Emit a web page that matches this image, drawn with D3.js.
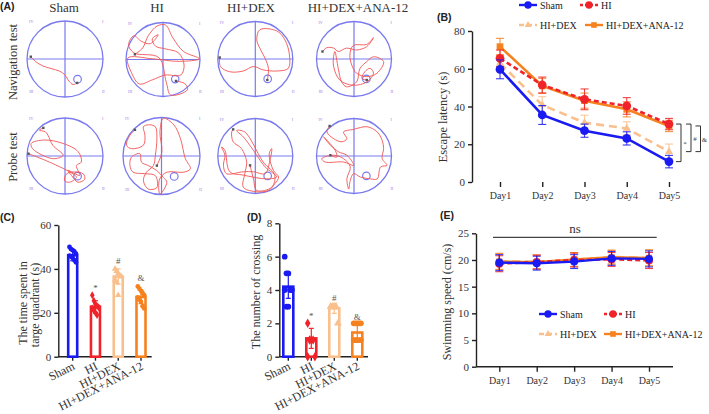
<!DOCTYPE html>
<html><head><meta charset="utf-8">
<script src="https://cdn.jsdelivr.net/npm/d3@7"></script>
<style>body{margin:0;background:#fff}svg{display:block}</style>
</head><body><svg id="c" width="709" height="414"></svg>
<script>
// ---------------- DATA ----------------
const groups = ["Sham","HI","HI+DEX","HI+DEX+ANA-12"];
const days = ["Day1","Day2","Day3","Day4","Day5"];
const quadrantLabels = ["IV","I","III","II"];

// (B) Escape latency (s)
const latSham = [59.7, 35.5, 27.2, 23.1, 10.8];
const latHI   = [65.5, 51.4, 43.8, 40.3, 30.7];
const latDEX  = [63.0, 40.8, 31.4, 28.4, 16.1];
const latANA  = [71.7, 50.9, 43.1, 38.5, 29.7];
const latShamErr = [5.0, 5.0, 3.5, 3.5, 3.3];
const latHIErr   = [4.4, 4.2, 5.5, 4.4, 3.0];
const latDEXErr  = [4.4, 4.4, 4.0, 3.5, 4.0];
const latANAErr  = [4.4, 4.0, 4.0, 4.0, 3.0];
const sigLabels = ["*","#","&"];

// (C) time spent in target quadrant (s)
const timeMean = [46.2, 22.8, 36.5, 27.2];
const timeSD   = [2.5, 2.7, 3.5, 3.0];
const timeSham = [50, 49, 48.5, 48, 47, 46, 45.5, 45, 44, 43];
const timeHI   = [28, 25.5, 24, 23, 22.5, 22, 21, 20, 19];
const timeDEX  = [40, 39, 38, 37, 36.5, 35, 34, 28];
const timeANA  = [32, 31, 30, 29, 28, 27, 26, 25, 23, 22];
const timeSig  = ["", "*", "#", "&"];

// (D) number of crossing
const crossMean = [4.2, 1.1, 2.9, 1.45];
const crossSD   = [0.7, 0.6, 0.3, 0.5];
const crossSham = [6, 5, 5, 4, 4, 4, 3, 3];
const crossHI   = [2, 1, 1, 1, 0, 0];
const crossDEX  = [3, 3, 3, 3, 2, 3];
const crossANA  = [2, 2, 2, 2, 2, 1, 1, 1, 1, 1];
const crossSig  = ["", "*", "#", "&"];

// (E) Swimming speed (cm/s)
const spdSham = [19.5, 19.4, 19.7, 20.3, 20.2];
const spdHI   = [19.3, 19.6, 20.0, 20.1, 19.9];
const spdDEX  = [19.8, 19.7, 20.0, 20.6, 20.4];
const spdANA  = [19.7, 19.6, 20.1, 20.5, 20.4];
const spdErr  = [1.5, 1.3, 1.3, 1.3, 1.5];

// (A) swim trajectories, pool coordinates (-100..100, radius 100)
const platformPos = [33, 53];
const navSham = [[-90,-6],[-77,7],[-59,18],[-37,25],[-14,32],[-1,41],[11,59],[21,67],[32,63]];
const navHI = [[-76,-14],[-55,-31],[-40,-64],[-15,-91],[7,-93],[27,-58],[55,-22],[98,-2],[44,5],[-29,-2],[-95,-4],[-85,36],[-64,66],[-29,55],[7,42],[48,42],[57,15],[42,-18],[5,-29],[-20,-36],[-29,-56],[-13,-67],[-34,-43],[-58,-49],[-79,-64],[-93,-40],[-79,-18],[-11,-5],[9,62],[21,96],[66,82],[60,66],[35,58]];
const navDEX = [[-95,-4],[-93,20],[-68,34],[-32,32],[-5,20],[21,29],[57,32],[88,25],[91,-11],[79,-51],[57,-75],[12,-78],[4,-51],[12,-29],[26,-2],[35,25],[32,56]];
const navANA = [[-84,-20],[-73,-30],[-54,-29],[-42,-20],[-20,-29],[7,-24],[34,-33],[52,-57],[34,-39],[-2,-36],[-11,-11],[-6,16],[7,38],[34,47],[61,38],[79,7],[52,-6],[34,7],[16,25],[7,61],[-20,74],[-33,61],[-42,25],[-51,-20],[-55,16],[-38,56],[-2,70],[34,61],[52,38],[43,25],[29,34],[21,52],[34,56]];
const probeSham = [[-96,-6],[-41,16],[21,47],[30,56],[12,69],[-1,65],[4,47],[26,42],[48,47],[52,61],[34,69],[17,51],[8,38],[39,51],[30,25],[43,16],[35,-11],[-5,-33],[-54,-42],[-89,-33],[-85,-19],[-32,7],[-5,-2],[-32,-28],[-45,-55],[-52,-64],[-68,-68],[-57,-74]];
const probeHI = [[-69,-68],[-82,-54],[-91,-28],[-78,-19],[-47,-28],[-43,-54],[-47,-76],[-34,-81],[-16,-76],[-12,-46],[-16,-2],[-21,25],[-39,42],[-47,64],[-34,86],[-12,82],[-16,51],[-43,46],[-74,42],[-82,25],[-78,3],[-56,-6],[-52,16],[-34,25],[-12,38],[5,56],[14,68],[-4,99],[-5,60],[14,42],[58,42],[75,33],[62,7],[49,-46],[32,-81],[5,-98],[-4,-63],[1,-11],[-12,25]];
const probeDEX = [[-59,-71],[-63,-64],[-59,-38],[-37,-20],[-23,16],[-28,47],[-32,83],[-1,95],[35,92],[52,74],[62,56],[48,38],[37,-6],[44,-20],[39,12],[26,47],[-5,42],[-32,42],[-77,47],[-85,25],[-81,-2],[-90,-24],[-81,-15],[-68,42],[-32,51],[30,61],[57,56],[26,29],[-5,-15],[-32,-51],[-50,-68],[-28,-64],[21,16],[52,51],[44,83],[4,92],[-5,61],[-14,25]];
const probeANA = [[-65,-80],[-72,-64],[-54,-46],[-32,-38],[-19,-46],[-28,-64],[-1,-71],[35,-78],[62,-64],[75,-42],[79,-20],[75,7],[88,25],[71,29],[62,61],[44,61],[17,56],[-1,47],[-10,65],[-14,88],[-19,61],[-10,29],[-28,7],[-54,-2],[-86,7],[-77,16],[-28,16],[-1,25],[-19,-2],[-41,-11],[-63,-29],[-81,-51],[-50,-15],[-46,3],[-63,-2]];

// ---------------- STYLE ----------------
const svg = d3.select("#c");
const serif = "'Liberation Serif','Times New Roman',serif";
const sans = "'Liberation Sans',Arial,sans-serif";
const col = ["#1a1af2","#f0232a","#f9c08e","#f5821f"];
const poolCol = "#7a7af0", trackCol = "#f05555";

function txt(x,y,s,o={}){
  const t = svg.append("text").attr("x",x).attr("y",y).text(s)
    .attr("font-family",o.family||serif).attr("font-size",o.size||12)
    .attr("fill",o.fill||"#222").attr("text-anchor",o.anchor||"start");
  if(o.weight) t.attr("font-weight",o.weight);
  if(o.rotate!==undefined) t.attr("transform",`rotate(${o.rotate},${x},${y})`);
  return t;
}
function styleAxis(g,fs){
  g.selectAll("path,line").attr("stroke","#222").attr("stroke-width",1.4);
  g.selectAll("text").attr("font-family",serif).attr("font-size",fs||10.5).attr("fill","#333");
}

// ---------------- PANEL A ----------------
txt(0,10,"(A)",{family:sans,size:10.5,weight:"bold"});
const titleX = [64,157,251,358];
groups.forEach((g,i)=>txt(titleX[i],12,g,{size:13,anchor:"middle",fill:"#333"}));
txt(17,62,"Navigation test",{size:12.5,anchor:"middle",rotate:-90,fill:"#333"});
txt(17,157,"Probe test",{size:12.5,anchor:"middle",rotate:-90,fill:"#333"});

const pools = [
 {cx:65,cy:59,r:38,path:navSham},{cx:163,cy:59.5,r:37,path:navHI},
 {cx:255.3,cy:59,r:37.5,path:navDEX},{cx:354,cy:59,r:37.5,path:navANA},
 {cx:65,cy:156,r:38,path:probeSham},{cx:161.5,cy:156,r:38.5,path:probeHI},
 {cx:255.3,cy:156,r:37.5,path:probeDEX},{cx:354,cy:156,r:37.5,path:probeANA}];
const cornerPos = [[-89,-94],[99,-94],[-89,90],[101,90]];
pools.forEach(p=>{
  const sx = d3.scaleLinear().domain([-100,100]).range([p.cx-p.r,p.cx+p.r]);
  const sy = d3.scaleLinear().domain([-100,100]).range([p.cy-p.r,p.cy+p.r]);
  const g = svg.append("g");
  g.append("line").attr("x1",sx(-100)).attr("x2",sx(100)).attr("y1",sy(0)).attr("y2",sy(0)).attr("stroke",poolCol).attr("stroke-width",1.2);
  g.append("line").attr("x1",sx(0)).attr("x2",sx(0)).attr("y1",sy(-100)).attr("y2",sy(100)).attr("stroke",poolCol).attr("stroke-width",1.2);
  g.append("circle").attr("cx",p.cx).attr("cy",p.cy).attr("r",p.r).attr("fill","none").attr("stroke",poolCol).attr("stroke-width",1.3);
  g.append("circle").attr("cx",sx(platformPos[0])).attr("cy",sy(platformPos[1])).attr("r",p.r*0.1).attr("fill","none").attr("stroke",poolCol).attr("stroke-width",1.2);
  const line = d3.line().x(d=>sx(d[0])).y(d=>sy(d[1])).curve(d3.curveCatmullRom.alpha(0.5));
  g.append("path").attr("d",line(p.path)).attr("fill","none").attr("stroke",trackCol).attr("stroke-width",0.9);
  [p.path[0],p.path[p.path.length-1]].forEach(d=>g.append("rect").attr("x",sx(d[0])-1.2).attr("y",sy(d[1])-1.2).attr("width",2.4).attr("height",2.4).attr("fill","#555"));
  quadrantLabels.forEach((q,i)=>g.append("text").attr("x",sx(cornerPos[i][0])).attr("y",sy(cornerPos[i][1])).text(q)
    .attr("font-family",serif).attr("font-size",4).attr("fill","#9a78e6").attr("text-anchor","middle"));
});

// ---------------- PANEL B ----------------
txt(437,21,"(B)",{family:sans,size:10.5,weight:"bold"});
const xB = d3.scalePoint().domain(days).range([500,669]);
const yB = d3.scaleLinear().domain([0,80]).range([182,31]);
const gyB = svg.append("g").attr("transform","translate(472,0)").call(d3.axisLeft(yB).tickValues([0,20,40,60,80]).tickSize(4).tickSizeOuter(0).tickPadding(3));
styleAxis(gyB,11);
const gxB = svg.append("g").attr("transform","translate(0,182)").call(d3.axisBottom(xB).tickSize(5).tickPadding(5));
gxB.select(".domain").remove();
styleAxis(gxB,10);
txt(447,117,"Escape latency (s)",{size:12.5,anchor:"middle",rotate:-90,fill:"#333"});

const seriesStyle = [
  {dash:null, sym:d3.symbolCircle, size:60},
  {dash:"5,3", sym:d3.symbolCircle, size:60},
  {dash:"8,5", sym:d3.symbolTriangle, size:28},
  {dash:null, sym:d3.symbolSquare, size:45}];

function drawSeries(xs,ys,vals,errs,gi,lw,capW,sizeK){
  const st = seriesStyle[gi];
  const g = svg.append("g");
  vals.forEach((v,i)=>{
    const x = xs(days[i]);
    g.append("line").attr("x1",x).attr("x2",x).attr("y1",ys(v-errs[i])).attr("y2",ys(v+errs[i])).attr("stroke",col[gi]).attr("stroke-width",1.1).attr("opacity",0.85);
    [v-errs[i],v+errs[i]].forEach(e=>g.append("line").attr("x1",x-capW).attr("x2",x+capW).attr("y1",ys(e)).attr("y2",ys(e)).attr("stroke",col[gi]).attr("stroke-width",1.1).attr("opacity",0.85));
  });
  const line = d3.line().x((d,i)=>xs(days[i])).y(d=>ys(d));
  const p = g.append("path").attr("d",line(vals)).attr("fill","none").attr("stroke",col[gi]).attr("stroke-width",lw);
  if(st.dash) p.attr("stroke-dasharray",st.dash);
  vals.forEach((v,i)=>g.append("path").attr("d",d3.symbol().type(st.sym).size(st.size*sizeK)())
    .attr("transform",`translate(${xs(days[i])},${ys(v)})`).attr("fill",col[gi]));
}
const latVals = [latSham,latHI,latDEX,latANA], latErrs=[latShamErr,latHIErr,latDEXErr,latANAErr];
[2,3,1,0].forEach(gi=>drawSeries(xB,yB,latVals[gi],latErrs[gi],gi,2.6,4,1));

// significance brackets
const brackets = [{x:681,y1:latHI[4],y2:latSham[4]},{x:691,y1:latHI[4],y2:latDEX[4]},{x:700.5,y1:latANA[4],y2:latDEX[4]}];
brackets.forEach((b,i)=>{
  const y1=yB(b.y1), y2=yB(b.y2);
  svg.append("path").attr("d",`M${b.x-5},${y1}H${b.x}V${y2}H${b.x-5}`).attr("fill","none").attr("stroke","#333").attr("stroke-width",1);
  txt(b.x+4,(y1+y2)/2+3,sigLabels[i],{size:7,anchor:"middle",fill:"#444"});
});

function legend(items){
  items.forEach(it=>{
    const st = seriesStyle[it.g];
    const l = svg.append("line").attr("x1",it.x).attr("x2",it.x+18).attr("y1",it.y).attr("y2",it.y).attr("stroke",col[it.g]).attr("stroke-width",2.4);
    if(st.dash) l.attr("stroke-dasharray",it.g==1?"3,2":"5,3");
    svg.append("path").attr("d",d3.symbol().type(st.sym).size(st.size*0.7)()).attr("transform",`translate(${it.x+9},${it.y})`).attr("fill",col[it.g]);
    txt(it.x+21,it.y+3.5,groups[it.g],{size:10,fill:"#222"});
  });
}
legend([{g:0,x:519,y:5},{g:1,x:580,y:5},{g:2,x:519,y:25},{g:3,x:585,y:25}]);

// ---------------- PANELS C, D (bars) ----------------
function barPanel(o){
  txt(o.lx,o.ly,o.label,{family:sans,size:10.5,weight:"bold"});
  const y = d3.scaleLinear().domain([0,o.max]).range([356.7,o.top]);
  const x = d3.scalePoint().domain(groups).range(o.xr);
  const gy = svg.append("g").attr("transform",`translate(${o.ax},0)`).call(d3.axisLeft(y).tickValues(o.ticks).tickSize(4).tickSizeOuter(0).tickPadding(3));
  styleAxis(gy,11);
  svg.append("line").attr("x1",o.ax).attr("x2",o.axEnd).attr("y1",y(0)).attr("y2",y(0)).attr("stroke","#222").attr("stroke-width",1.4);
  groups.forEach((g,i)=>{
    const cx = x(g);
    svg.append("line").attr("x1",cx).attr("x2",cx).attr("y1",y(0)).attr("y2",y(0)+4).attr("stroke","#222").attr("stroke-width",1.4);
    txt(cx+3,y(0)+12,g,{size:12,anchor:"end",rotate:-27,fill:"#333"});
    const bw=o.bw, c=col[i];
    svg.append("rect").attr("x",cx-bw/2).attr("y",y(o.mean[i])).attr("width",bw).attr("height",y(0)-y(o.mean[i]))
      .attr("fill","#fff").attr("stroke",c).attr("stroke-width",2.6);
    const top=y(o.mean[i]+o.sd[i]), bot=y(o.mean[i]-o.sd[i]);
    svg.append("line").attr("x1",cx).attr("x2",cx).attr("y1",top).attr("y2",bot).attr("stroke",c).attr("stroke-width",1.2);
    [top,bot].forEach(yy=>svg.append("line").attr("x1",cx-2.5).attr("x2",cx+2.5).attr("y1",yy).attr("y2",yy).attr("stroke",c).attr("stroke-width",1.2));
    const sym = d3.symbol().type([d3.symbolCircle,d3.symbolDiamond,d3.symbolTriangle,d3.symbolCircle][i]).size(o.ps);
    o.pts[i].forEach((v,j)=>{
      const off = ((j%5)-2)*o.jit;
      svg.append("path").attr("d",sym()).attr("transform",`translate(${cx+off},${y(v)})`).attr("fill",c);
    });
    if(o.sig[i]) txt(cx,o.sigY[i],o.sig[i],{size:9,anchor:"middle",fill:"#555"});
  });
}
barPanel({label:"(C)",lx:0,ly:220.5,max:60,top:225,ticks:[0,20,40,60],xr:[72.7,141],ax:58.3,axEnd:151.7,bw:9,
  mean:timeMean,sd:timeSD,pts:[timeSham,timeHI,timeDEX,timeANA],ps:18,jit:1.6,sig:timeSig,sigY:[0,291,263.5,281]});
txt(27,303,"The time spent in",{size:12,anchor:"middle",rotate:-90,fill:"#333"});
txt(38.5,305,"targe quadrant (s)",{size:12,anchor:"middle",rotate:-90,fill:"#333"});

barPanel({label:"(D)",lx:247,ly:220.5,max:8,top:223.3,ticks:[0,2,4,6,8],xr:[288.3,357.3],ax:279.3,axEnd:368,bw:10,
  mean:crossMean,sd:crossSD,pts:[crossSham,crossHI,crossDEX,crossANA],ps:26,jit:1.8,sig:crossSig,sigY:[0,319,301,319.5]});
txt(259.5,292,"The number of crossing",{size:12,anchor:"middle",rotate:-90,fill:"#333"});

// ---------------- PANEL E ----------------
txt(440,219,"(E)",{family:sans,size:10.5,weight:"bold"});
const xE = d3.scalePoint().domain(days).range([499.3,649]);
const yE = d3.scaleLinear().domain([0,25]).range([366.7,233.3]);
const gyE = svg.append("g").attr("transform","translate(476,0)").call(d3.axisLeft(yE).tickValues([0,5,10,15,20,25]).tickSize(4).tickSizeOuter(0).tickPadding(3));
styleAxis(gyE,11);
svg.append("line").attr("x1",476).attr("x2",673).attr("y1",yE(0)).attr("y2",yE(0)).attr("stroke","#222").attr("stroke-width",1.4);
const gxE = svg.append("g").attr("transform",`translate(0,${yE(0)})`).call(d3.axisBottom(xE).tickSize(5).tickPadding(5));
gxE.select(".domain").remove();
styleAxis(gxE,10);
txt(450.5,302,"Swimming speed (cm/s)",{size:12,anchor:"middle",rotate:-90,fill:"#333"});
svg.append("line").attr("x1",493).attr("x2",656.7).attr("y1",237.3).attr("y2",237.3).attr("stroke","#444").attr("stroke-width",1.2);
txt(575,233,"ns",{size:13,anchor:"middle",fill:"#333"});
const spdVals=[spdSham,spdHI,spdDEX,spdANA];
[2,3,1,0].forEach(gi=>drawSeries(xE,yE,spdVals[gi],spdErr,gi,2.4,4,0.85));
legend([{g:0,x:539,y:314},{g:1,x:604,y:314},{g:2,x:539,y:334},{g:3,x:604,y:334}]);
</script></body></html>
